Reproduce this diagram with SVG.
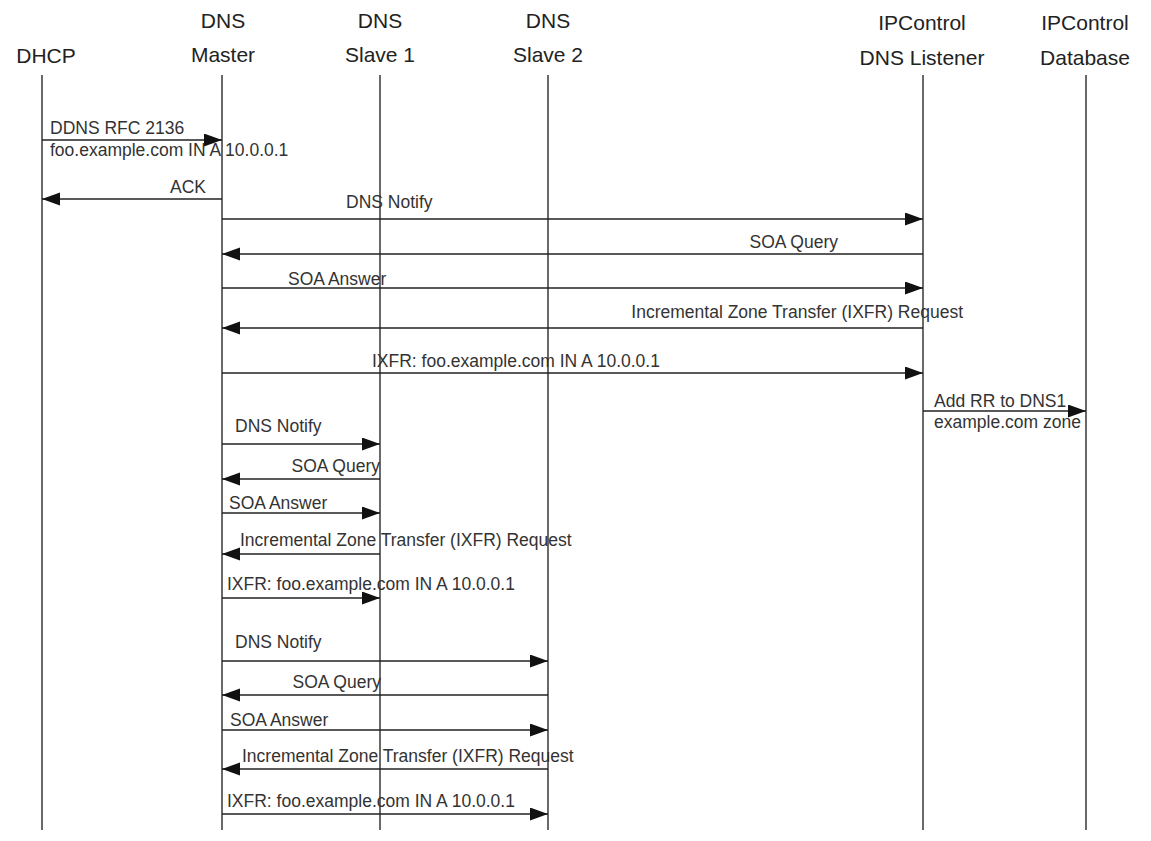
<svg xmlns="http://www.w3.org/2000/svg" width="1151" height="841" viewBox="0 0 1151 841">
<defs>
<marker id="ah" markerUnits="userSpaceOnUse" markerWidth="19" markerHeight="14" refX="18" refY="6.5" orient="auto">
<path d="M0,0 L18,6.5 L0,13 z" fill="#111"/>
</marker>
<style>
.hdr{font-family:"Liberation Sans",Arial,sans-serif;font-size:21px;fill:#222;text-anchor:middle}
.life{stroke:#444;stroke-width:1.6;fill:none}
.msg{stroke:#222;stroke-width:1.5;fill:none;marker-end:url(#ah)}
.lbl{font-family:"Liberation Sans",Arial,sans-serif;font-size:17.5px;fill:#333}
.r{text-anchor:end}
</style>
</defs>
<rect width="1151" height="841" fill="#fff"/>
<g id="node-dhcp">
<text class="hdr" x="46" y="63">DHCP</text>
<line class="life" x1="42" y1="75" x2="42" y2="830"/>
</g>
<g id="node-master">
<text class="hdr" x="223" y="28">DNS</text>
<text class="hdr" x="223" y="62">Master</text>
<line class="life" x1="222" y1="75" x2="222" y2="830"/>
</g>
<g id="node-slave1">
<text class="hdr" x="380" y="28">DNS</text>
<text class="hdr" x="380" y="62">Slave 1</text>
<line class="life" x1="380" y1="75" x2="380" y2="830"/>
</g>
<g id="node-slave2">
<text class="hdr" x="548" y="28">DNS</text>
<text class="hdr" x="548" y="62">Slave 2</text>
<line class="life" x1="548" y1="75" x2="548" y2="830"/>
</g>
<g id="node-listener">
<text class="hdr" x="922" y="30">IPControl</text>
<text class="hdr" x="922" y="65">DNS Listener</text>
<line class="life" x1="923" y1="75" x2="923" y2="830"/>
</g>
<g id="node-database">
<text class="hdr" x="1085" y="30">IPControl</text>
<text class="hdr" x="1085" y="65">Database</text>
<line class="life" x1="1086" y1="75" x2="1086" y2="830"/>
</g>
<g id="connectors">
<line class="msg" x1="42" y1="140" x2="222" y2="140"/>
<line class="msg" x1="222" y1="199" x2="42" y2="199"/>
<line class="msg" x1="222" y1="219" x2="923" y2="219"/>
<line class="msg" x1="923" y1="254" x2="222" y2="254"/>
<line class="msg" x1="222" y1="288" x2="923" y2="288"/>
<line class="msg" x1="923" y1="328" x2="222" y2="328"/>
<line class="msg" x1="222" y1="373" x2="923" y2="373"/>
<line class="msg" x1="923" y1="411" x2="1086" y2="411"/>
<line class="msg" x1="222" y1="444" x2="380" y2="444"/>
<line class="msg" x1="380" y1="479" x2="222" y2="479"/>
<line class="msg" x1="222" y1="513" x2="380" y2="513"/>
<line class="msg" x1="380" y1="554" x2="222" y2="554"/>
<line class="msg" x1="222" y1="598" x2="380" y2="598"/>
<line class="msg" x1="222" y1="661" x2="548" y2="661"/>
<line class="msg" x1="548" y1="695" x2="222" y2="695"/>
<line class="msg" x1="222" y1="730" x2="548" y2="730"/>
<line class="msg" x1="548" y1="769" x2="222" y2="769"/>
<line class="msg" x1="222" y1="814" x2="548" y2="814"/>
</g>
<g id="labels">
<text class="lbl" x="50" y="134">DDNS RFC 2136</text>
<text class="lbl" x="50" y="156">foo.example.com IN A 10.0.0.1</text>
<text class="lbl r" x="206" y="193">ACK</text>
<text class="lbl" x="346" y="208">DNS Notify</text>
<text class="lbl r" x="838" y="248">SOA Query</text>
<text class="lbl" x="288" y="285">SOA Answer</text>
<text class="lbl r" x="963" y="318">Incremental Zone Transfer (IXFR) Request</text>
<text class="lbl" x="372" y="367">IXFR: foo.example.com IN A 10.0.0.1</text>
<text class="lbl" x="934" y="407">Add RR to DNS1</text>
<text class="lbl" x="934" y="428">example.com zone</text>
<text class="lbl" x="235" y="432">DNS Notify</text>
<text class="lbl r" x="380" y="472">SOA Query</text>
<text class="lbl" x="229" y="509">SOA Answer</text>
<text class="lbl" x="240" y="546">Incremental Zone Transfer (IXFR) Request</text>
<text class="lbl" x="227" y="590">IXFR: foo.example.com IN A 10.0.0.1</text>
<text class="lbl" x="235" y="648">DNS Notify</text>
<text class="lbl r" x="381" y="688">SOA Query</text>
<text class="lbl" x="230" y="726">SOA Answer</text>
<text class="lbl" x="242" y="762">Incremental Zone Transfer (IXFR) Request</text>
<text class="lbl" x="227" y="807">IXFR: foo.example.com IN A 10.0.0.1</text>
</g>
</svg>
